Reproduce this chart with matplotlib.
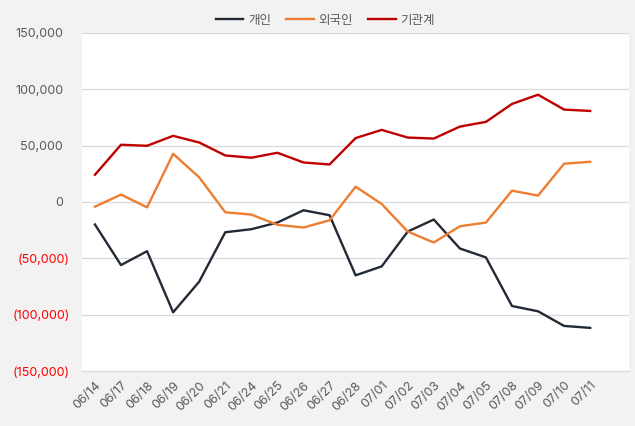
import matplotlib
matplotlib.use("Agg")
import matplotlib.pyplot as plt
from matplotlib.ticker import FuncFormatter
from matplotlib.transforms import ScaledTranslation

plt.rcParams['font.family'] = ['Inter', 'Noto Sans CJK KR', 'DejaVu Sans']

# Data
dates = ["06/14", "06/17", "06/18", "06/19", "06/20", "06/21", "06/24", "06/25",
         "06/26", "06/27", "06/28", "07/01", "07/02", "07/03", "07/04", "07/05",
         "07/08", "07/09", "07/10", "07/11"]
individual = [-20000, -56000, -43700, -97900, -70700, -26900, -24200, -18300,
              -7400, -11800, -65100, -57200, -26300, -15600, -41300, -49200,
              -92300, -97000, -110000, -111700]
foreign = [-4200, 6500, -4800, 42700, 21800, -9200, -11200, -20300,
           -22700, -16300, 13500, -1800, -26300, -36000, -21600, -18300,
           10000, 5600, 33900, 35600]
institution = [24100, 50700, 49800, 58600, 52700, 41200, 39200, 43600,
               35000, 33200, 56600, 63900, 57100, 56200, 66800, 71000,
               86900, 95100, 81900, 80700]
series_names = ["개인", "외국인", "기관계"]
yticks = [-150000, -100000, -50000, 0, 50000, 100000, 150000]

fig = plt.figure(figsize=(6.35, 4.26), dpi=100, facecolor="#f2f2f2")
ax = fig.add_axes([0.129, 0.129, 0.862, 0.794])
ax.set_facecolor("white")

x = range(len(dates))
ax.plot(x, individual, color="#222a35", linewidth=1.7, label=series_names[0])
ax.plot(x, foreign, color="#ed7d31", linewidth=1.7, label=series_names[1])
ax.plot(x, institution, color="#c00000", linewidth=1.7, label=series_names[2])

ax.set_xlim(-0.5, len(dates) + 0.5)
ax.set_ylim(-150000, 150000)
ax.set_yticks(yticks)

def fmt(v, pos):
    if v < 0:
        return f"({abs(int(v)):,})"
    return f"{int(v):,}"

ax.yaxis.set_major_formatter(FuncFormatter(fmt))
ax.set_xticks(list(x))
ax.set_xticklabels(dates, rotation=45, ha="right", rotation_mode="anchor")

ax.tick_params(axis="both", length=0, labelsize=9)
ax.tick_params(axis="y", pad=8.5)
ax.tick_params(axis="x", pad=6)

# positive numbers sit left of the closing-paren column, like Excel
shift = ScaledTranslation(-5 / 72, 0, fig.dpi_scale_trans)
for lbl, v in zip(ax.get_yticklabels(), yticks):
    lbl.set_color("#ff0000" if v < 0 else "#595959")
    if v >= 0:
        lbl.set_transform(lbl.get_transform() + shift)
for lbl in ax.get_xticklabels():
    lbl.set_color("#595959")

ax.grid(axis="y", color="#d9d9d9", linewidth=0.9)
ax.set_axisbelow(True)
for side in ["left", "right", "top"]:
    ax.spines[side].set_visible(False)
ax.spines["bottom"].set_color("#d9d9d9")

ax.legend(loc="lower center", bbox_to_anchor=(0.445, 1.0), ncol=3, frameon=False,
          fontsize=9, labelcolor="#595959", handlelength=2.2, columnspacing=1.2,
          handletextpad=0.4, borderaxespad=0.1)

fig.savefig("out.png", dpi=100, facecolor=fig.get_facecolor())
